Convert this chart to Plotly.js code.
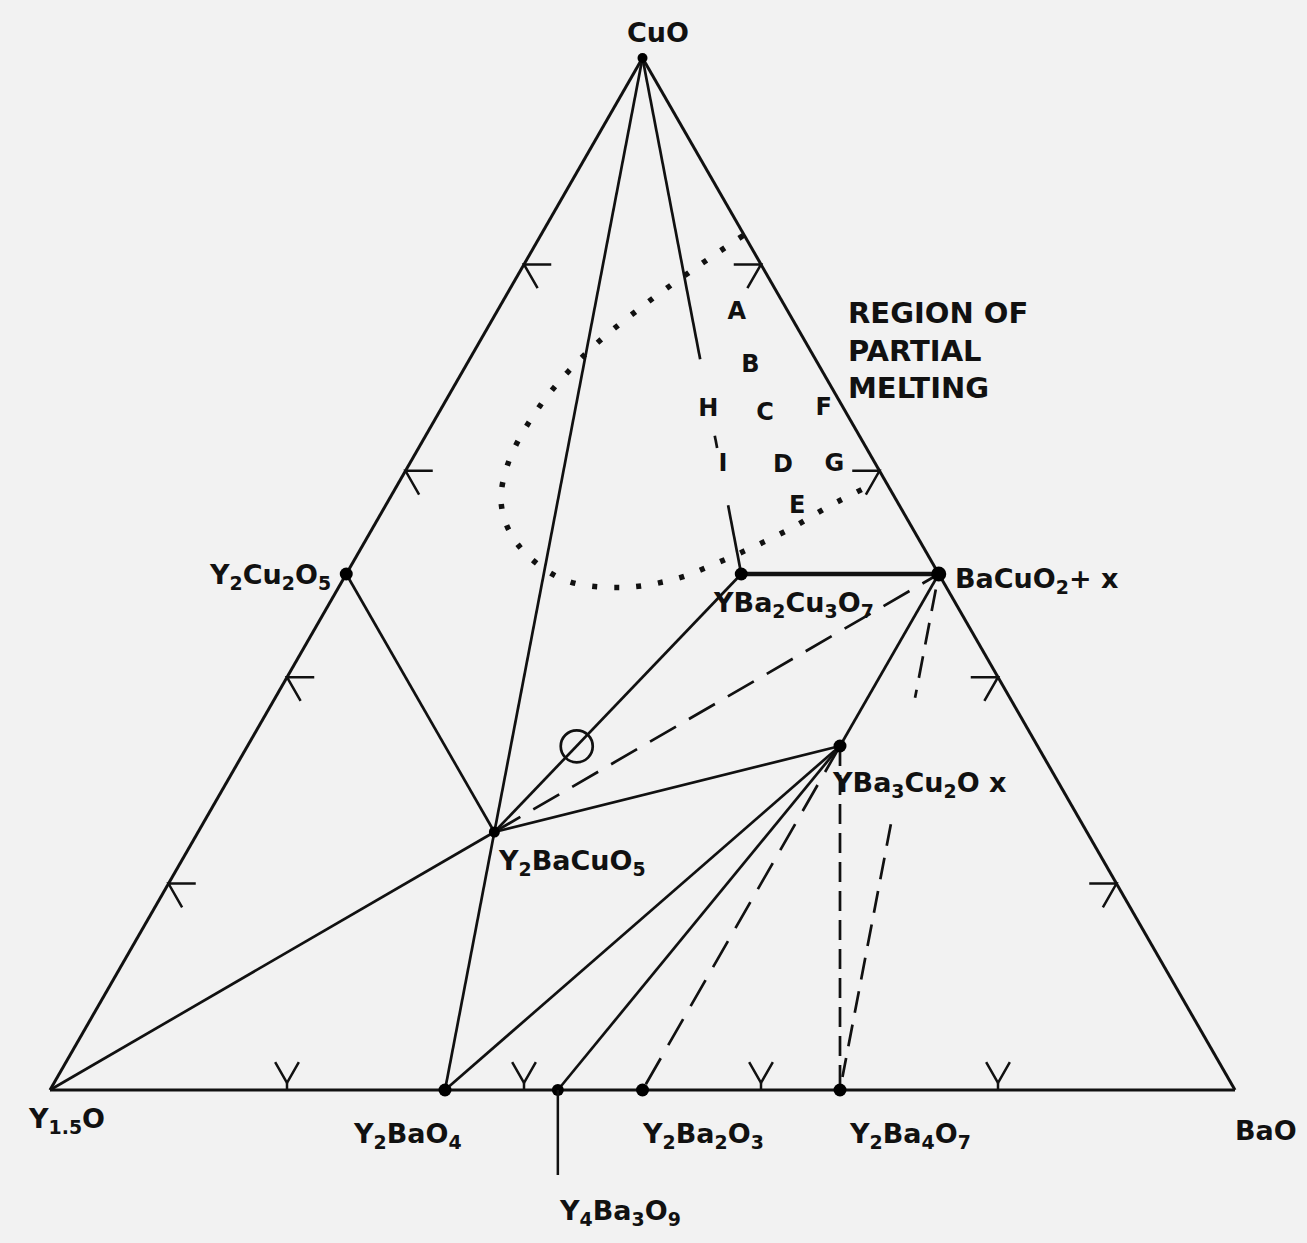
<!DOCTYPE html>
<html><head><meta charset="utf-8">
<script src="https://cdn.plot.ly/plotly-3.0.1.min.js"></script>
<style>html,body{margin:0;padding:0;background:#f2f2f2;}</style>
</head><body>
<div id="chart" style="width:1307px;height:1243px;"></div>
<script>
// ---- DATA: phase compositions as cation fractions (Y, Ba, Cu) ----
const phaseNames = ['CuO','Y1.5O','BaO','Y2Cu2O5','Y2BaCuO5','YBa2Cu3O7','BaCuO2','YBa3Cu2Ox','Y2BaO4','Y4Ba3O9','Y2Ba2O5','Y2Ba4O7'];
const phaseY  = [0, 1, 0, 0.5, 0.5, 1/6, 0, 1/6, 2/3, 4/7, 0.5, 1/3];
const phaseBa = [0, 0, 1, 0, 0.25, 1/3, 0.5, 0.5, 1/3, 3/7, 0.5, 2/3];
const phaseCu = [1, 0, 0, 0.5, 0.25, 0.5, 0.5, 1/3, 0, 0, 0, 0];
const phaseText = ['CuO','Y<sub>1.5</sub>O','BaO','Y<sub>2</sub>Cu<sub>2</sub>O<sub>5</sub>','Y<sub>2</sub>BaCuO<sub>5</sub>',
  'YBa<sub>2</sub>Cu<sub>3</sub>O<sub>7</sub>','BaCuO<sub>2</sub>+ x','YBa<sub>3</sub>Cu<sub>2</sub>O x','Y<sub>2</sub>BaO<sub>4</sub>',
  'Y<sub>4</sub>Ba<sub>3</sub>O<sub>9</sub>','Y<sub>2</sub>Ba<sub>2</sub>O<sub>3</sub>','Y<sub>2</sub>Ba<sub>4</sub>O<sub>7</sub>'];
const markedPhases = ['CuO','Y2Cu2O5','Y2BaCuO5','YBa2Cu3O7','BaCuO2','YBa3Cu2Ox','Y2BaO4','Y4Ba3O9','Y2Ba2O5','Y2Ba4O7'];

// tie lines
const edgeFrom = ['Y1.5O','CuO','Y1.5O'];
const edgeTo   = ['CuO','BaO','BaO'];
const solidFrom = ['CuO','Y2Cu2O5','Y1.5O','Y2BaCuO5','Y2BaCuO5','YBa3Cu2Ox','YBa3Cu2Ox','YBa3Cu2Ox'];
const solidTo   = ['Y2BaO4','Y2BaCuO5','Y2BaCuO5','YBa2Cu3O7','YBa3Cu2Ox','BaCuO2','Y2BaO4','Y4Ba3O9'];
const heavyFrom = ['YBa2Cu3O7'];
const heavyTo   = ['BaCuO2'];
const dashedFrom = ['Y2BaCuO5','YBa3Cu2Ox'];
const dashedTo   = ['BaCuO2','Y2Ba2O5'];
const fineDashFrom = ['YBa3Cu2Ox'];
const fineDashTo   = ['Y2Ba4O7'];
// partially drawn joins: [from, to] and drawn fraction pieces
const brokenSolid = ['CuO','YBa2Cu3O7'];
const brokenSolidParts = [[0,0.584],[0.732,0.756],[0.867,1]];
const brokenDash = ['BaCuO2','Y2Ba4O7'];
const brokenDashParts = [[0.03,0.24],[0.485,0.975]];

// special composition marked by open circle
const circleY = [0.389], circleBa = [0.278], circleCu = [0.333];

// region of partial melting (dotted boundary)
const loopY  = [0.001,0.051,0.121,0.189,0.255,0.310,0.336,0.341,0.320,0.273,0.222,0.181,0.144,0.103,0.059,0.010];
const loopBa = [0.171,0.149,0.120,0.096,0.082,0.083,0.098,0.130,0.185,0.240,0.282,0.308,0.330,0.353,0.375,0.402];
const loopCu = [0.828,0.800,0.759,0.715,0.663,0.607,0.566,0.529,0.495,0.487,0.496,0.511,0.526,0.544,0.566,0.588];

// sample composition letters
const sampleText = ['A','B','C','D','E','F','G','H','I'];
const sampleY  = [0.045,0.057,0.069,0.079,0.087,0.017,0.035,0.115,0.129];
const sampleBa = [0.203,0.240,0.276,0.316,0.348,0.323,0.359,0.226,0.265];
const sampleCu = [0.753,0.702,0.655,0.605,0.565,0.660,0.606,0.659,0.606];

// arrow marks along the edges
const leftEdgeCu  = [0.2,0.4,0.6,0.8];
const rightEdgeCu = [0.2,0.4,0.6,0.8];
const bottomEdgeBa = [0.2,0.4,0.6,0.8];

// ---- helpers ----
const toX = (y,ba,cu) => ba + cu/2;
const toYc = (y,ba,cu) => cu;
const idx = n => phaseNames.indexOf(n);
const pt = n => { const i = idx(n); return [toX(phaseY[i],phaseBa[i],phaseCu[i]), toYc(phaseY[i],phaseBa[i],phaseCu[i])]; };
function joins(from, to){
  const x=[],y=[];
  from.forEach((f,k)=>{ const p=pt(f), q=pt(to[k]); x.push(p[0],q[0],null); y.push(p[1],q[1],null); });
  return {x,y};
}
function pieces(pair, parts){
  const p=pt(pair[0]), q=pt(pair[1]); const x=[],y=[];
  parts.forEach(([t0,t1])=>{ x.push(p[0]+(q[0]-p[0])*t0, p[0]+(q[0]-p[0])*t1, null); y.push(p[1]+(q[1]-p[1])*t0, p[1]+(q[1]-p[1])*t1, null); });
  return {x,y};
}
const K = '#111111';
const FONT = 'DejaVu Sans';
const traces = [];
function lineTrace(d, width, dash){
  traces.push({type:'scatter', mode:'lines', x:d.x, y:d.y, line:{color:K, width:width, dash:dash||'solid'}, hoverinfo:'skip', showlegend:false, connectgaps:false});
}
lineTrace(joins(edgeFrom, edgeTo), 3);
lineTrace(joins(solidFrom, solidTo), 2.7);
lineTrace(joins(heavyFrom, heavyTo), 4.5);
lineTrace(joins(dashedFrom, dashedTo), 2.7, '30px,15px');
lineTrace(joins(fineDashFrom, fineDashTo), 2.7, '20px,9px');
lineTrace(pieces(brokenSolid, brokenSolidParts), 2.7);
lineTrace(pieces(brokenDash, brokenDashParts), 2.7, '22px,12px');

// edge arrow marks
(function(){
  const d = 0.023, e = 0.02, s = 0.007; const x=[], y=[];
  leftEdgeCu.forEach(cu=>{ const X=toX(1-cu,0,cu), Y=toYc(1-cu,0,cu);
    x.push(X+d, X, X+d/2, null); y.push(Y, Y, Y-d, null); });
  rightEdgeCu.forEach(cu=>{ const X=toX(0,1-cu,cu), Y=toYc(0,1-cu,cu);
    x.push(X-d, X, X-d/2, null); y.push(Y, Y, Y-d, null); });
  bottomEdgeBa.forEach(ba=>{ const X=toX(1-ba,ba,0), Y=toYc(1-ba,ba,0);
    x.push(X-e/2, X, X+e/2, null, X, X, null); y.push(Y+s+e, Y+s, Y+s+e, null, Y+s, Y, null); });
  traces.push({type:'scatter', mode:'lines', x, y, line:{color:K, width:2.5}, hoverinfo:'skip', showlegend:false});
})();

// dotted region boundary
traces.push({type:'scatter', mode:'lines',
  x: loopY.map((v,i)=>toX(v,loopBa[i],loopCu[i])), y: loopY.map((v,i)=>toYc(v,loopBa[i],loopCu[i])),
  line:{color:K, width:5.5, dash:'5px,17px', shape:'spline', smoothing:1}, hoverinfo:'skip', showlegend:false});

// open circle
traces.push({type:'scatter', mode:'markers', x: circleY.map((v,i)=>toX(v,circleBa[i],circleCu[i])), y: circleY.map((v,i)=>toYc(v,circleBa[i],circleCu[i])),
  marker:{symbol:'circle-open', size:32, color:K, opacity:1, line:{color:K, width:2.7}}, hoverinfo:'skip', showlegend:false});

// phase points
const markerSizes = {CuO:10, Y2Cu2O5:13, Y2BaCuO5:11, YBa2Cu3O7:13, BaCuO2:15, YBa3Cu2Ox:13, Y2BaO4:13, Y4Ba3O9:12, Y2Ba2O5:13, Y2Ba4O7:13};
traces.push({type:'scatter', mode:'markers', x: markedPhases.map(n=>pt(n)[0]), y: markedPhases.map(n=>pt(n)[1]),
  marker:{color:'#000000', opacity:1, size: markedPhases.map(n=>markerSizes[n]), line:{width:0}}, hoverinfo:'skip', showlegend:false});

// sample letters
traces.push({type:'scatter', mode:'text', x: sampleText.map((t,i)=>toX(sampleY[i],sampleBa[i],sampleCu[i])), y: sampleText.map((t,i)=>toYc(sampleY[i],sampleBa[i],sampleCu[i])),
  text: sampleText, textposition:'middle center', textfont:{family:FONT, size:24, weight:'bold', color:K}, hoverinfo:'skip', showlegend:false, cliponaxis:false});

// ---- label placement (pixel offsets from each phase point) ----
const labelPlace = {
  'CuO':       {dx:15,  dy:26,   xa:'center'},
  'Y1.5O':     {dx:16,  dy:-30,  xa:'center'},
  'BaO':       {dx:31,  dy:-40,  xa:'center'},
  'Y2Cu2O5':   {dx:-13, dy:-2,   xa:'right'},
  'Y2BaCuO5':  {dx:2,   dy:-30,  xa:'left'},
  'YBa2Cu3O7': {dx:-30, dy:-30,  xa:'left'},
  'BaCuO2':    {dx:14,  dy:-6,   xa:'left'},
  'YBa3Cu2Ox': {dx:-10, dy:-38,  xa:'left'},
  'Y2BaO4':    {dx:-38, dy:-45,  xa:'center'},
  'Y4Ba3O9':   {dx:62,  dy:-122, xa:'center'},
  'Y2Ba2O5':   {dx:60,  dy:-45,  xa:'center'},
  'Y2Ba4O7':   {dx:70,  dy:-45,  xa:'center'}
};
const annotations = phaseNames.map((n,i)=>({
  x: pt(n)[0], y: pt(n)[1], xref:'x', yref:'y', text: phaseText[i], showarrow:false,
  xanchor: labelPlace[n].xa, yanchor:'middle', xshift: labelPlace[n].dx, yshift: labelPlace[n].dy,
  font:{family:FONT, size:27, weight:'bold', color:K}
}));
// leader line for Y4Ba3O9
annotations.push({x: pt('Y4Ba3O9')[0], y: pt('Y4Ba3O9')[1], xref:'x', yref:'y', text:' ', showarrow:true,
  arrowhead:0, arrowwidth:2.5, arrowcolor:K, ax:0, ay:88, standoff:0, startstandoff:0, font:{size:2}});
// region title
annotations.push({x:0.672, y:0.717, xref:'x', yref:'y', xanchor:'left', yanchor:'middle', align:'left', showarrow:false,
  text:'REGION OF<br>PARTIAL<br>MELTING', font:{family:FONT, size:29, weight:'bold', color:K}});

const layout = {
  width:1307, height:1243, margin:{l:0,r:0,t:0,b:0},
  paper_bgcolor:'#f2f2f2', plot_bgcolor:'#f2f2f2',
  xaxis:{range:[-0.04219, 1.06076], visible:false, fixedrange:true},
  yaxis:{range:[-0.14826, 1.0562], visible:false, fixedrange:true},
  annotations, showlegend:false
};
Plotly.newPlot('chart', traces, layout, {displayModeBar:false, staticPlot:true});
</script>
</body></html>
